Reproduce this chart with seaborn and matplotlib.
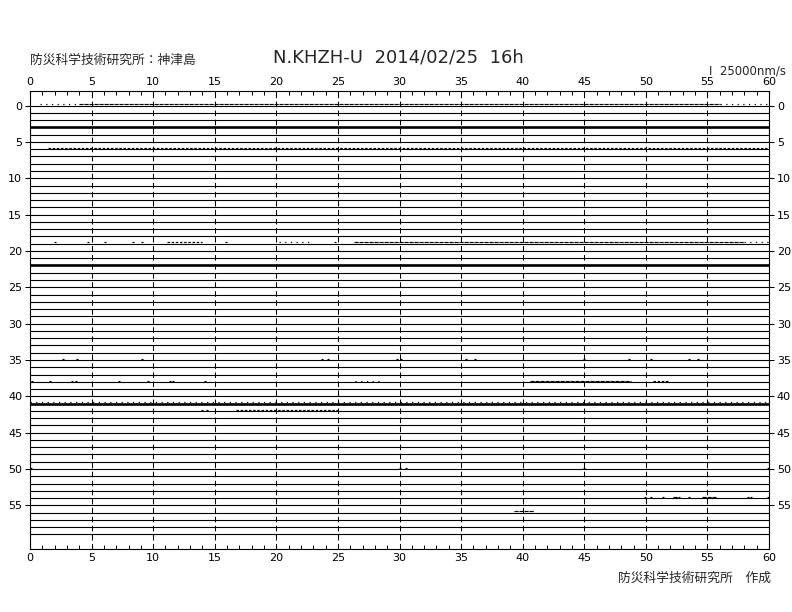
import numpy as np
import pandas as pd
import matplotlib
matplotlib.use("Agg")
import matplotlib.pyplot as plt
from matplotlib.ticker import MultipleLocator
import seaborn as sns

# ---------------- data ----------------
minutes = list(range(60))            # one trace per minute
seconds_span = [0, 60]               # each trace spans 0..60 s
thick_minutes = [3, 22, 41]          # traces drawn as heavy (saturated) lines

# noise bursts on a trace: minute, start second, end second, density
burst_minute = [0, 0, 0, 6, 19, 19, 19, 19, 38, 38, 38, 41, 42, 54, 54, 56]
burst_start = [0.8, 4.0, 56.0, 1.5, 11.1, 20.2, 26.3, 58.0, 26.4, 40.6, 50.6, 0.0, 16.7, 52.2, 54.6, 39.3]
burst_end = [4.0, 56.0, 59.8, 59.8, 14.0, 22.9, 58.0, 60.0, 28.3, 48.8, 51.9, 60.0, 25.0, 52.8, 55.7, 40.9]
burst_density = ["sparse", "dense", "sparse", "medium", "medium", "sparse", "dense", "sparse",
                 "sparse", "dense", "medium", "sparse", "medium", "dense", "dense", "dense"]

# isolated spikes: minute, second
spike_minute = [19, 19, 19, 19, 19, 19, 19,
                35, 35, 35, 35, 35, 35, 35, 35, 35, 35, 35, 35, 35, 35,
                38, 38, 38, 38, 38, 38, 38, 38, 38,
                42, 42,
                50, 50, 50, 50, 50,
                54, 54, 54, 54, 54, 54, 54]
spike_second = [2.0, 4.7, 6.1, 8.4, 9.1, 15.9, 24.8,
                2.7, 3.8, 9.1, 23.7, 24.2, 29.8, 30.1, 35.4, 36.1, 45.0, 48.6, 50.4, 53.5, 54.2,
                0.2, 1.6, 3.4, 3.7, 7.2, 9.6, 11.4, 11.6, 14.2,
                14.0, 14.4,
                0.1, 30.0, 30.5, 45.0, 59.9,
                49.9, 50.4, 51.4, 53.5, 58.3, 58.5, 59.9]

x_ticks = list(range(0, 61, 5))
y_ticks = list(range(0, 60, 5))

station = "N.KHZH-U  2014/02/25  16h"
left_caption = "防災科学技術研究所：神津島"
scale_caption = "I  25000nm/s"
footer = "防災科学技術研究所　作成"

# ---------------- style ----------------
sns.set_style("ticks")
plt.rcParams["font.family"] = ["DejaVu Sans", "Noto Sans CJK JP"]
plt.rcParams["lines.scale_dashes"] = False
plt.rcParams["axes.edgecolor"] = "black"
plt.rcParams["axes.linewidth"] = 0.75
plt.rcParams["xtick.color"] = "black"
plt.rcParams["ytick.color"] = "black"

fig = plt.figure(figsize=(7.92, 6.12), dpi=100)
ax = fig.add_axes([30 / 792, 1 - 549 / 612, 739 / 792, 458 / 612])

# traces
df_rows = pd.DataFrame({
    "minute": np.repeat(minutes, len(seconds_span)),
    "sec": np.tile(seconds_span, len(minutes)),
})
thin = df_rows[~df_rows["minute"].isin(thick_minutes)]
thick = df_rows[df_rows["minute"].isin(thick_minutes)]
sns.lineplot(data=thin, x="sec", y="minute", units="minute", estimator=None,
             color="black", lw=0.8, ax=ax, legend=False)
sns.lineplot(data=thick, x="sec", y="minute", units="minute", estimator=None,
             color="black", lw=1.9, ax=ax, legend=False)

# noise bursts (drawn 1 px above the baseline)
offset = -0.17
bursts = pd.DataFrame({
    "seg": np.repeat(np.arange(len(burst_minute)), 2),
    "sec": np.ravel(np.column_stack([burst_start, burst_end])),
    "y": np.repeat(np.array(burst_minute) + offset, 2),
    "density": np.repeat(burst_density, 2),
})
patterns = {"dense": (0, (3.0, 0.6)), "medium": (0, (1.8, 1.2)), "sparse": (0, (0.9, 3.2))}
for dens, pat in patterns.items():
    sub = bursts[bursts["density"] == dens]
    if len(sub):
        sns.lineplot(data=sub, x="sec", y="y", units="seg", estimator=None,
                     color="black", lw=0.85, linestyle=pat, ax=ax, legend=False)

# spikes
spikes = pd.DataFrame({"sec": spike_second, "y": np.array(spike_minute) + offset})
sns.scatterplot(data=spikes, x="sec", y="y", marker="_", s=4, linewidth=0.85,
                color="black", ax=ax, legend=False)

# axes
ax.set_xlim(0, 60)
ax.set_ylim(61, -2)
ax.set_xticks(x_ticks)
ax.xaxis.set_minor_locator(MultipleLocator(1))
ax.set_yticks(y_ticks)
ax.set_xlabel("")
ax.set_ylabel("")
ax.tick_params(axis="x", which="both", top=True, bottom=True, labeltop=True,
               labelbottom=True, direction="in", length=3, width=0.75, pad=3,
               labelsize=8)
ax.tick_params(axis="y", left=True, right=True, labelleft=True, labelright=True,
               direction="out", length=3.6, width=0.75, pad=2, labelsize=8)
ax.grid(axis="x", which="major", color="black", linestyle=(0, (4, 2.5)), lw=0.75)
for s in ax.spines.values():
    s.set_visible(True)
    s.set_color("black")
    s.set_linewidth(0.8)

# texts
fig.text(398 / 792, 1 - 57 / 612, station, ha="center", va="center", fontsize=13)
fig.text(30 / 792, 1 - 60 / 612, left_caption, ha="left", va="center", fontsize=9.2,
         family=["Noto Sans CJK JP", "DejaVu Sans"])
fig.text(786 / 792, 1 - 71 / 612, scale_caption, ha="right", va="center", fontsize=8.5)
fig.text(771 / 792, 1 - 578 / 612, footer, ha="right", va="center", fontsize=9.2,
         family=["Noto Sans CJK JP", "DejaVu Sans"])

fig.savefig("out.png", dpi=100, facecolor="white")
